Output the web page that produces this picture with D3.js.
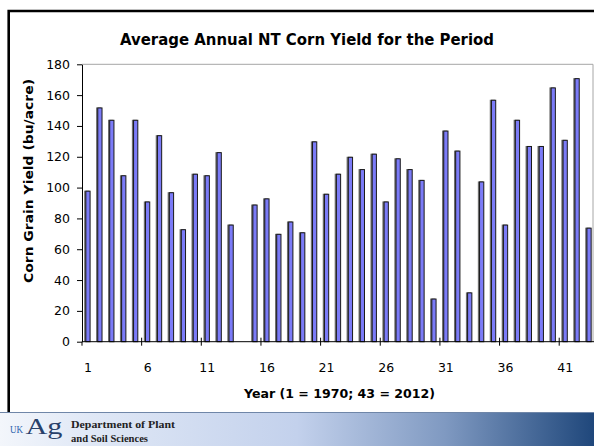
<!DOCTYPE html>
<html>
<head>
<meta charset="utf-8">
<script src="https://cdn.jsdelivr.net/npm/d3@7"></script>
<style>
  html, body { margin: 0; padding: 0; background: #fff; }
  svg { display: block; }
</style>
</head>
<body>
<svg id="chart" width="594" height="446"></svg>
<script>
// Year index (1 = 1970 ... 43 = 2012)
const years = [1, 2, 3, 4, 5, 6, 7, 8, 9, 10, 11, 12, 13, 14, 15, 16, 17, 18, 19, 20, 21,
  22, 23, 24, 25, 26, 27, 28, 29, 30, 31, 32, 33, 34, 35, 36, 37, 38, 39, 40, 41, 42, 43];

// Average annual no-till corn grain yield, bu/acre (no data for year 14)
const yields = [98, 152, 144, 108, 144, 91, 134, 97, 73, 109, 108, 123, 76, null,
  89, 93, 70, 78, 71, 130, 96, 109, 120, 112, 122, 91, 119, 112, 105, 28,
  137, 124, 32, 104, 157, 76, 144, 127, 127, 165, 131, 171, 74];

const xTickLabels = [1, 6, 11, 16, 21, 26, 31, 36, 41];
const xTickBoundaries = [5, 10, 15, 20, 25, 30, 35, 40];
const yTicks = [0, 20, 40, 60, 80, 100, 120, 140, 160, 180];

const titleText = "Average Annual NT Corn Yield for the Period";
const yTitleText = "Corn Grain Yield (bu/acre)";
const xTitleText = "Year (1 = 1970; 43 = 2012)";

const svg = d3.select("#chart");
const W = 594, H = 446;

const plot = { left: 82, right: 595, top: 64.3, bottom: 341.7 };

const x = d3.scaleBand()
  .domain(years)
  .range([plot.left, plot.right])
  .paddingInner(0.56)
  .paddingOuter(0.28);

const y = d3.scaleLinear()
  .domain([0, 180])
  .range([plot.bottom, plot.top]);

// footer band gradient
const defs = svg.append("defs");
const grad = defs.append("linearGradient")
  .attr("id", "footerGrad")
  .attr("x1", "0").attr("x2", "1").attr("y1", "0").attr("y2", "0");
[[0, "#f3f6fb"], [0.15, "#e0e8f6"], [0.5, "#c3d1ec"], [0.75, "#7f99c1"], [1, "#1f477b"]]
  .forEach(([o, c]) => grad.append("stop").attr("offset", o).attr("stop-color", c));

svg.append("rect").attr("width", W).attr("height", H).attr("fill", "#fff");

// slide frame
svg.append("path")
  .attr("d", `M8.7,412 V11 H${W}`)
  .attr("fill", "none")
  .attr("stroke", "#000")
  .attr("stroke-width", 2.6);

// plot area border (top and right)
svg.append("path")
  .attr("d", `M${plot.left},${y(180)} H${W - 1} V${plot.bottom}`)
  .attr("fill", "none")
  .attr("stroke", "#a6a6a6")
  .attr("stroke-width", 1);

// bars
const barData = years.map((yr, i) => ({ year: yr, value: yields[i] }))
  .filter(d => d.value !== null);

const bars = svg.append("g");
// shadow on the left edge of each bar
bars.selectAll("rect.shadow")
  .data(barData)
  .join("rect")
  .attr("class", "shadow")
  .attr("x", d => x(d.year) - 1.2)
  .attr("y", d => y(d.value))
  .attr("width", x.bandwidth())
  .attr("height", d => y(0) - y(d.value))
  .attr("fill", "#6e6e6e");

bars.selectAll("rect.bar")
  .data(barData)
  .join("rect")
  .attr("class", "bar")
  .attr("x", d => x(d.year) + 0.5)
  .attr("y", d => y(d.value) + 0.5)
  .attr("width", x.bandwidth() - 1)
  .attr("height", d => y(0) - y(d.value) - 0.5)
  .attr("fill", "#7b7bf7")
  .attr("stroke", "#1a1a1a")
  .attr("stroke-width", 1);

// y axis
const yAxis = svg.append("g")
  .attr("transform", `translate(${plot.left},0)`)
  .call(d3.axisLeft(y).tickValues(yTicks).tickSize(5).tickSizeOuter(0).tickPadding(7));
yAxis.select(".domain").attr("stroke", "#000");
yAxis.selectAll(".tick line").attr("stroke", "#000");
yAxis.selectAll(".tick text")
  .attr("font-family", "'DejaVu Sans', Verdana, sans-serif")
  .attr("font-size", 12.5)
  .attr("fill", "#000");

// x axis line
svg.append("line")
  .attr("x1", plot.left).attr("x2", W)
  .attr("y1", y(0)).attr("y2", y(0))
  .attr("stroke", "#000").attr("stroke-width", 1);

// x tick marks between category groups
const boundary = k => x(k) + x.bandwidth() / 2 + x.step() / 2;
svg.append("g").selectAll("line")
  .data(xTickBoundaries)
  .join("line")
  .attr("x1", d => boundary(d)).attr("x2", d => boundary(d))
  .attr("y1", y(0) - 4).attr("y2", y(0) + 4)
  .attr("stroke", "#000");
svg.append("line")
  .attr("x1", plot.left).attr("x2", plot.left)
  .attr("y1", y(0)).attr("y2", y(0) + 4)
  .attr("stroke", "#000");

// x tick labels
const xAxis = svg.append("g")
  .attr("transform", `translate(0,${y(0)})`)
  .call(d3.axisBottom(x).tickValues(xTickLabels).tickSize(0).tickPadding(21));
xAxis.select(".domain").remove();
xAxis.selectAll(".tick text")
  .attr("font-family", "'DejaVu Sans', Verdana, sans-serif")
  .attr("font-size", 12.5)
  .attr("fill", "#000");

// titles
const titleFont = "'Comic Sans MS', 'DejaVu Sans', sans-serif";
svg.append("text")
  .attr("x", 307).attr("y", 44.5)
  .attr("text-anchor", "middle")
  .attr("font-family", titleFont)
  .attr("font-weight", "bold")
  .attr("font-size", 15)
  .attr("textLength", 374)
  .attr("lengthAdjust", "spacingAndGlyphs")
  .text(titleText);

svg.append("text")
  .attr("transform", "translate(33,181) rotate(-90)")
  .attr("text-anchor", "middle")
  .attr("font-family", titleFont)
  .attr("font-weight", "bold")
  .attr("font-size", 11.5)
  .attr("textLength", 204)
  .attr("lengthAdjust", "spacingAndGlyphs")
  .text(yTitleText);

svg.append("text")
  .attr("x", 339.5).attr("y", 398)
  .attr("text-anchor", "middle")
  .attr("font-family", titleFont)
  .attr("font-weight", "bold")
  .attr("font-size", 12.5)
  .attr("textLength", 191)
  .attr("lengthAdjust", "spacingAndGlyphs")
  .text(xTitleText);

// footer band
svg.append("rect")
  .attr("x", 0).attr("y", 412).attr("width", W).attr("height", H - 412)
  .attr("fill", "url(#footerGrad)");
svg.append("line")
  .attr("x1", 0).attr("x2", W).attr("y1", 412.5).attr("y2", 412.5)
  .attr("stroke", "#6f86a8").attr("stroke-width", 1);

svg.append("text")
  .attr("x", 10).attr("y", 433)
  .attr("font-family", "'Liberation Serif', serif")
  .attr("font-size", 11)
  .attr("textLength", 13)
  .attr("lengthAdjust", "spacingAndGlyphs")
  .attr("fill", "#2d62ad")
  .text("UK");
svg.append("text")
  .attr("x", 25.5).attr("y", 433.5)
  .attr("font-family", "'Liberation Serif', serif")
  .attr("font-size", 24)
  .attr("textLength", 37)
  .attr("lengthAdjust", "spacingAndGlyphs")
  .attr("fill", "#28406a")
  .text("Ag");

svg.append("text")
  .attr("x", 71).attr("y", 428)
  .attr("font-family", "'Liberation Serif', serif")
  .attr("font-weight", "bold")
  .attr("font-size", 10)
  .attr("textLength", 104)
  .attr("lengthAdjust", "spacingAndGlyphs")
  .attr("fill", "#222")
  .text("Department of Plant");
svg.append("text")
  .attr("x", 71).attr("y", 442)
  .attr("font-family", "'Liberation Serif', serif")
  .attr("font-weight", "bold")
  .attr("font-size", 10)
  .attr("textLength", 77)
  .attr("lengthAdjust", "spacingAndGlyphs")
  .attr("fill", "#222")
  .text("and Soil Sciences");
</script>
</body>
</html>
